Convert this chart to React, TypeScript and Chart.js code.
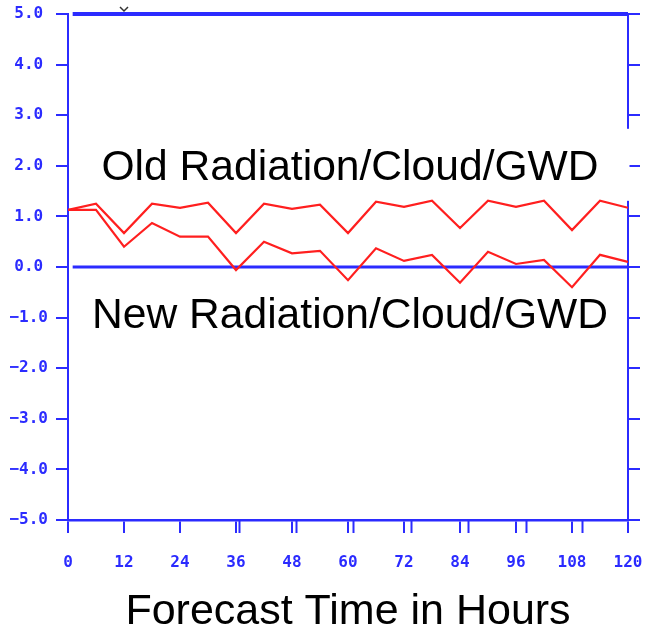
import React, { useEffect, useRef } from 'react';
import { Chart, registerables } from 'chart.js';

Chart.register(...registerables);

// ---- data ----
const HOURS = [0, 6, 12, 18, 24, 30, 36, 42, 48, 54, 60, 66, 72, 78, 84, 90, 96, 102, 108, 114, 120];
const OLD_SERIES = [1.13, 1.25, 0.67, 1.25, 1.17, 1.27, 0.67, 1.25, 1.15, 1.23, 0.67, 1.29, 1.19, 1.31, 0.77, 1.31, 1.19, 1.31, 0.73, 1.31, 1.17];
const NEW_SERIES = [1.13, 1.13, 0.4, 0.87, 0.6, 0.6, -0.06, 0.5, 0.27, 0.32, -0.26, 0.37, 0.12, 0.24, -0.31, 0.3, 0.06, 0.14, -0.4, 0.24, 0.1];
const X_TICKS = [0, 12, 24, 36, 48, 60, 72, 84, 96, 108, 120];
const X_MINOR_TICKS = [36.7, 48.9, 61.1, 73.4, 85.8, 98.1, 110.1];
const Y_TICKS = [-5, -4, -3, -2, -1, 0, 1, 2, 3, 4, 5];
const REF_LINE_HOURS = [1, 120];
const ZERO_LINE = [0, 0];
const TOP_LINE = [5, 5];
const OLD_LABEL = 'Old Radiation/Cloud/GWD';
const OLD_LABEL_Y = 2.0;
const NEW_LABEL = 'New Radiation/Cloud/GWD';
const NEW_LABEL_Y = -0.9;
const X_TITLE = 'Forecast Time in Hours';
const CARET_HOUR = 12;

const BLUE = '#2b2bff';
const RED = '#ff1f1f';
const TICK_FONT = { family: '"DejaVu Sans Mono", monospace', weight: 'bold' as const, size: 16 };
const TEXT_FONT = '42.6px "Liberation Sans", Arial, sans-serif';

const fmtY = (v: number) => (v < 0 ? '\u2212' + Math.abs(v).toFixed(1) : v.toFixed(1));

const annotations = {
  id: 'annotations',
  beforeDatasetsDraw(chart: any) {
    const { ctx } = chart;
    const x = chart.scales.x;
    const y = chart.scales.y;
    ctx.save();
    const right = x.getPixelForValue(120) + 1.5;
    const cx = (x.left + x.right) / 2 + 2;
    const left = cx - (right - cx);
    const oy = y.getPixelForValue(OLD_LABEL_Y);
    ctx.fillStyle = '#ffffff';
    ctx.fillRect(left, oy - 37, right - left, 72);
    ctx.restore();
  },
  afterDatasetsDraw(chart: any) {
    const { ctx } = chart;
    const x = chart.scales.x;
    const y = chart.scales.y;
    ctx.save();
    const cx = (x.left + x.right) / 2 + 2;
    ctx.font = TEXT_FONT;
    ctx.fillStyle = '#000';
    ctx.textAlign = 'center';
    ctx.textBaseline = 'alphabetic';
    ctx.fillText(OLD_LABEL, cx, y.getPixelForValue(OLD_LABEL_Y) + 14);
    ctx.fillText(NEW_LABEL, cx, y.getPixelForValue(NEW_LABEL_Y) + 15);

    ctx.strokeStyle = BLUE;
    ctx.lineWidth = 2;
    for (const v of X_MINOR_TICKS) {
      const px = Math.round(x.getPixelForValue(v)) + 0.5;
      ctx.beginPath();
      ctx.moveTo(px, y.bottom);
      ctx.lineTo(px, y.bottom + 13);
      ctx.stroke();
    }

    const kx = x.getPixelForValue(CARET_HOUR);
    const ky = y.getPixelForValue(5);
    ctx.strokeStyle = '#333';
    ctx.lineWidth = 1.5;
    ctx.beginPath();
    ctx.moveTo(kx - 4, ky - 7);
    ctx.lineTo(kx, ky - 3);
    ctx.lineTo(kx + 4, ky - 7);
    ctx.stroke();
    ctx.restore();
  },
};

export default function App() {
  const ref = useRef<HTMLCanvasElement | null>(null);

  useEffect(() => {
    if (!ref.current) return;
    const chart = new Chart(ref.current, {
      type: 'line',
      data: {
        datasets: [
          {
            label: 'Old',
            data: HOURS.map((h, i) => ({ x: h, y: OLD_SERIES[i] })),
            borderColor: RED,
            borderWidth: 2.2,
            pointRadius: 0,
            tension: 0,
            order: 1,
          },
          {
            label: 'New',
            data: HOURS.map((h, i) => ({ x: h, y: NEW_SERIES[i] })),
            borderColor: RED,
            borderWidth: 2.2,
            pointRadius: 0,
            tension: 0,
            order: 2,
          },
          {
            label: 'zero',
            data: REF_LINE_HOURS.map((h, i) => ({ x: h, y: ZERO_LINE[i] })),
            borderColor: BLUE,
            borderWidth: 3,
            pointRadius: 0,
            clip: false as any,
            order: 3,
          },
          {
            label: 'top',
            data: REF_LINE_HOURS.map((h, i) => ({ x: h, y: TOP_LINE[i] })),
            borderColor: BLUE,
            borderWidth: 4,
            pointRadius: 0,
            clip: false as any,
            order: 4,
          },
        ],
      },
      options: {
        animation: false,
        responsive: false,
        devicePixelRatio: 1,
        layout: { padding: { top: 14, left: 0, right: 0, bottom: 0 } },
        plugins: { legend: { display: false }, tooltip: { enabled: false } },
        scales: {
          x: {
            type: 'linear',
            position: 'bottom',
            min: 0,
            max: 120,
            afterBuildTicks: (s: any) => {
              s.ticks = X_TICKS.map((v) => ({ value: v }));
            },
            afterFit: (s: any) => {
              s.height = 113;
              s.paddingLeft = 0;
              s.paddingRight = 0;
            },
            ticks: {
              font: TICK_FONT,
              color: BLUE,
              padding: 20,
              maxRotation: 0,
              autoSkip: false,
              callback: (v: any) => String(v),
            },
            grid: { drawOnChartArea: false, drawTicks: true, tickLength: 13, color: BLUE, lineWidth: 2 },
            border: { display: true, color: BLUE, width: 2.5 },
            title: {
              display: true,
              text: X_TITLE,
              color: '#000',
              font: { family: '"Liberation Sans", Arial, sans-serif', size: 43, lineHeight: 1 },
              padding: { top: 0, bottom: -1 },
            },
          },
          y: {
            type: 'linear',
            position: 'left',
            min: -5,
            max: 5,
            afterBuildTicks: (s: any) => {
              s.ticks = Y_TICKS.map((v) => ({ value: v }));
            },
            afterFit: (s: any) => {
              s.width = 68;
              s.paddingTop = 0;
              s.paddingBottom = 0;
            },
            ticks: {
              font: TICK_FONT,
              color: BLUE,
              padding: 8,
              crossAlign: 'center',
              callback: (v: any) => fmtY(Number(v)),
            },
            grid: { drawOnChartArea: false, drawTicks: true, tickLength: 12, color: BLUE, lineWidth: 2 },
            border: { display: true, color: BLUE, width: 2 },
          },
          y2: {
            type: 'linear',
            position: 'right',
            min: -5,
            max: 5,
            afterBuildTicks: (s: any) => {
              s.ticks = Y_TICKS.map((v) => ({ value: v }));
            },
            afterFit: (s: any) => {
              s.width = 19;
              s.paddingTop = 0;
              s.paddingBottom = 0;
            },
            ticks: { display: false },
            grid: { drawOnChartArea: false, drawTicks: true, tickLength: 12, color: BLUE, lineWidth: 2 },
            border: { display: true, color: BLUE, width: 2 },
          },
        },
      } as any,
      plugins: [annotations],
    });
    return () => chart.destroy();
  }, []);

  return (
    <div style={{ position: 'absolute', left: 0, top: 0, width: 647, height: 633, background: '#fff' }}>
      <canvas ref={ref} width={647} height={633} style={{ display: 'block' }} />
    </div>
  );
}
